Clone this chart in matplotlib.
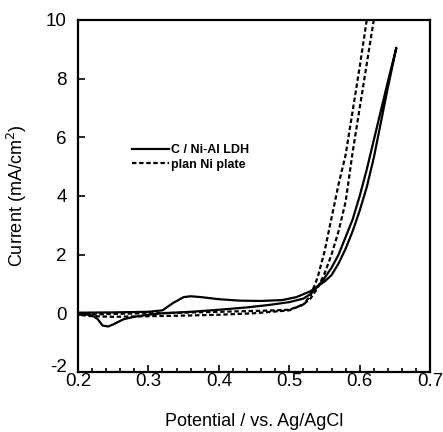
import matplotlib
matplotlib.use("Agg")
import matplotlib.pyplot as plt
from matplotlib.ticker import MultipleLocator

plt.rcParams["font.family"] = ["Liberation Sans", "DejaVu Sans"]
plt.rcParams["axes.unicode_minus"] = False

# --- C / Ni-Al LDH (solid) ---
ldh_fwd_v = [0.20, 0.25, 0.30, 0.32, 0.335, 0.35, 0.36, 0.375, 0.40, 0.43, 0.46, 0.49,
             0.51, 0.53, 0.54, 0.55, 0.56, 0.57, 0.58, 0.59, 0.60, 0.61, 0.62, 0.63, 0.64, 0.652]
ldh_fwd_i = [0.02, 0.03, 0.05, 0.10, 0.35, 0.55, 0.58, 0.55, 0.48, 0.43, 0.42, 0.45,
             0.55, 0.75, 0.92, 1.08, 1.30, 1.70, 2.20, 2.80, 3.50, 4.30, 5.30, 6.50, 7.70, 9.05]
ldh_rev_v = [0.652, 0.64, 0.63, 0.62, 0.61, 0.60, 0.59, 0.58, 0.57, 0.56, 0.55, 0.54, 0.53,
             0.52, 0.50, 0.47, 0.44, 0.40, 0.36, 0.32, 0.30, 0.28, 0.265, 0.25, 0.243,
             0.235, 0.228, 0.22, 0.21, 0.20]
ldh_rev_i = [9.05, 7.90, 6.90, 5.90, 4.90, 4.00, 3.20, 2.60, 2.00, 1.55, 1.20, 0.90, 0.65,
             0.50, 0.38, 0.28, 0.20, 0.12, 0.05, 0.00, -0.05, -0.12, -0.20, -0.38, -0.45,
             -0.42, -0.20, -0.07, -0.02, 0.00]

# --- plan Ni plate (dashed) ---
ni_fwd_v = [0.20, 0.25, 0.30, 0.35, 0.40, 0.45, 0.48, 0.50, 0.52, 0.53, 0.54, 0.55, 0.56,
            0.57, 0.58, 0.59, 0.60, 0.61, 0.62, 0.623]
ni_fwd_i = [-0.05, -0.02, 0.00, 0.02, 0.05, 0.08, 0.10, 0.12, 0.30, 0.50, 0.85, 1.35, 2.00,
            2.80, 3.80, 5.50, 7.00, 8.50, 10.0, 10.4]
ni_rev_v = [0.613, 0.61, 0.60, 0.59, 0.58, 0.57, 0.56, 0.55, 0.54, 0.53, 0.52, 0.50, 0.45,
            0.40, 0.35, 0.30, 0.25, 0.22, 0.20]
ni_rev_i = [10.4, 10.0, 8.40, 6.90, 5.40, 4.40, 3.25, 2.10, 1.20, 0.60, 0.30, 0.10, 0.00,
            -0.05, -0.08, -0.10, -0.12, -0.10, -0.05]

x_ticks = [0.2, 0.3, 0.4, 0.5, 0.6, 0.7]
y_ticks = [-2, 0, 2, 4, 6, 8, 10]

fig = plt.figure(figsize=(4.43, 4.32), dpi=100)
ax = fig.add_axes([0.176, 0.139, 0.795, 0.815])

ax.plot(ldh_fwd_v + ldh_rev_v, ldh_fwd_i + ldh_rev_i, color="black", lw=1.6,
        label="C / Ni-Al LDH")
ax.plot(ni_fwd_v + ni_rev_v, ni_fwd_i + ni_rev_i, color="black", lw=1.6,
        dashes=(2.0, 1.2), label="plan Ni plate")

ax.set_xlim(0.2, 0.7)
ax.set_ylim(-2, 10)
ax.set_xticks(x_ticks)
ax.set_xticklabels([f"{t:.1f}" for t in x_ticks])
ax.xaxis.set_minor_locator(MultipleLocator(0.02))
ax.set_yticks(y_ticks)
ax.set_yticklabels([str(t) for t in y_ticks])
ax.tick_params(axis="x", which="major", direction="in", length=5, width=1.2,
               labelsize=13.5, pad=1)
ax.tick_params(axis="x", which="minor", direction="in", length=3, width=1.2)
ax.tick_params(axis="y", direction="in", length=5, width=1.2, labelsize=13.5, pad=8)
# the -2 label sits a little above its tick in the original
ax.get_yticklabels()[0].set_verticalalignment("baseline")
for s in ax.spines.values():
    s.set_linewidth(1.6)

ax.set_xlabel("Potential / vs. Ag/AgCl", fontsize=13, labelpad=16)
ax.set_ylabel("Current (mA/cm$^2$)", fontsize=13, labelpad=12)

ax.legend(loc="center left", bbox_to_anchor=(0.153, 0.609), frameon=False,
          prop={"size": 9, "weight": "bold"}, handlelength=3.0, handletextpad=0.15,
          labelspacing=0.2, borderpad=0, borderaxespad=0)

fig.savefig("out.png", dpi=100)
